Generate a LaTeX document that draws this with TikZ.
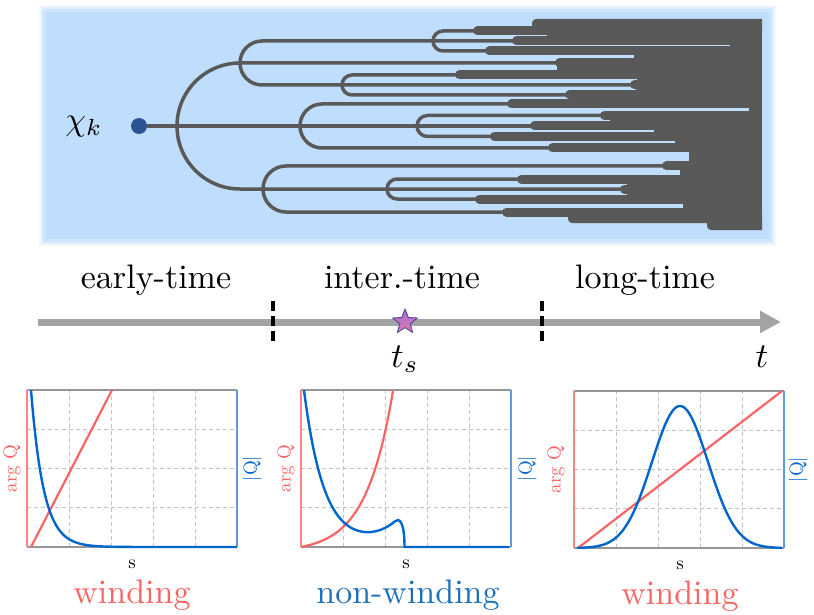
\documentclass[tikz,border=0pt]{standalone}
\usetikzlibrary{arrows.meta,shapes.geometric,positioning}

\definecolor{skyback}{RGB}{191,222,253}
\definecolor{branch}{RGB}{89,89,89}
\definecolor{rootdot}{RGB}{44,82,148}
\definecolor{argred}{RGB}{250,100,100}
\definecolor{absblue}{RGB}{0,102,204}
\definecolor{nwblue}{RGB}{28,112,184}
\definecolor{axisblue}{RGB}{90,155,220}
\definecolor{framegray}{RGB}{150,150,150}
\definecolor{gridgray}{RGB}{195,195,195}
\definecolor{timegray}{RGB}{163,163,163}

\tikzset{
  branchline/.style={draw=branch,line width=3.5pt},
  bar/.style={draw=branch,line width=9pt,line cap=round},
  bigtxt/.style={font=\fontsize{10}{12}\selectfont,scale=3.4,transform shape,inner sep=0pt},
  mathtxt/.style={font=\fontsize{10}{12}\selectfont,scale=3.5,transform shape,inner sep=0pt},
  smalltxt/.style={font=\fontsize{10}{12}\selectfont,scale=1.9,transform shape,inner sep=0pt},
  gridline/.style={draw=gridgray,line width=0.8pt,dash pattern=on 4pt off 3pt},
  cutmark/.style={draw=black,line width=4pt,dash pattern=on 10pt off 5pt},
  argline/.style={draw=argred,line width=2.2pt},
  qline/.style={draw=absblue,line width=2.4pt}
}

\begin{document}
\begin{tikzpicture}[x=1pt,y=-1pt]
  \useasboundingbox (0,0) rectangle (814,615);

  % soft blue panel
  \fill[skyback,opacity=0.2] (39,5) rectangle (776,246);
  \fill[skyback,opacity=0.35] (41,7) rectangle (774,244);
  \fill[skyback,opacity=0.6] (43,9) rectangle (772,242);
  \fill[skyback] (46,12) rectangle (769,239);

  % branching tree
  \node (root) [circle,fill=rootdot,minimum size=16pt,inner sep=0pt] at (139,126) {};
  \coordinate (root end) at (760,126);
  \draw[branchline] (root) -- (root end);
  \foreach \lx/\cy/\r in {177/126/63, 240/63/22, 433/41/10, 342/85/10,
                          300/126/22, 417/126/10.5, 263/189/23, 387/189/10} {
    \draw[branchline] (760,\cy-\r) -- (\lx+\r,\cy-\r)
      arc[start angle=270,end angle=90,radius=\r] -- (760,\cy+\r);
  }
  \foreach \by/\bx in {31/473, 41/512, 51/485, 63/555, 75/455, 85/630, 95/565,
                       104/507, 115.5/600, 126/530, 136.5/490, 148/548, 166/662,
                       179/517, 189/620, 199/475, 212/502} {
    \draw[bar] (\bx+4.5,\by) -- (757.5,\by);
  }
  \foreach \ya/\yb/\gx in {31/41/547, 41/51/730, 51/63/634, 63/75/557, 75/85/637,
                           85/95/636, 95/104/647, 104/115.5/749, 115.5/126/610,
                           126/136.5/654, 136.5/148/675, 148/166/689, 166/179/680,
                           179/189/627, 189/199/627, 199/212/683} {
    \fill[branch] (\gx,\ya) rectangle (762,\yb);
  }
  \fill[branch] (532,32) [rounded corners=4pt] -- (532,19) [sharp corners] -- (762,19) -- (762,32) -- cycle;
  \fill[branch] (568,211) [rounded corners=4pt] -- (568,223) [sharp corners] -- (762,223) -- (762,211) -- cycle;
  \fill[branch] (707,222) [rounded corners=4pt] -- (707,230) [sharp corners] -- (762,230) -- (762,222) -- cycle;

  \node (chi) [mathtxt,scale=0.95] at (84,127) {$\chi_k$};

  % time axis
  \node (early) [bigtxt,anchor=base] at (156,288) {early-time};
  \node (inter) [bigtxt,anchor=base] at (402,288) {inter.-time};
  \node (long)  [bigtxt,anchor=base] at (645,288) {long-time};

  \coordinate (tl start) at (38,322);
  \coordinate (tl end) at (781,322);
  \draw[timegray,line width=7pt,-{Triangle[length=21pt,width=21pt]}] (tl start) -- (tl end);
  \foreach \cx in {273,542}
    \draw[cutmark] (\cx,301) -- (\cx,344);

  \node (star) [star,star points=5,star point ratio=2.3,minimum size=26pt,inner sep=0pt,
                draw={rgb,255:red,70;green,70;blue,150},line width=0.8pt,
                top color={rgb,255:red,160;green,110;blue,205},
                bottom color={rgb,255:red,225;green,120;blue,180}] at (405,322) {};
  \node (ts) [mathtxt,anchor=base] at (405,367) {$t_s$};
  \node (tt) [mathtxt,anchor=base] at (762,367) {$t$};

  % panel 1: winding
  \begin{scope}[shift={(27,547)},y=1pt]
    \draw[gridline] (0,0) grid[xstep=42,ystep=39.25] (210,157);
    \draw[framegray,line width=1.5pt] (0,0) -- (210,0) (0,157) -- (210,157);
    \draw[argred!80,line width=1.2pt] (0,0) -- (0,157);
    \draw[axisblue,line width=1.2pt] (210,0) -- (210,157);
    \draw[argline] (4,0) -- (85,157);
    \draw[qline] plot[domain=4:210,samples=150,smooth] (\x,{157*exp(-(\x-4)/12.7)});
    \node (arg1) [smalltxt,rotate=90,text=argred] at (-15,78.5) {arg Q};
    \node (abs1) [smalltxt,rotate=90,text=absblue] at (225,78.5) {|Q|};
    \node (s1) [smalltxt] at (105,-17) {s};
    \node (lab1) [bigtxt,anchor=base,text=argred] at (105,-56) {winding};
  \end{scope}

  % panel 2: non-winding
  \begin{scope}[shift={(301,547)},y=1pt]
    \draw[gridline] (0,0) grid[xstep=42,ystep=39.25] (210,157);
    \draw[framegray,line width=1.5pt] (0,0) -- (210,0) (0,157) -- (210,157);
    \draw[argred!80,line width=1.2pt] (0,0) -- (0,157);
    \draw[axisblue,line width=1.2pt] (210,0) -- (210,157);
    \draw[argline] plot[domain=0:92,samples=100,smooth] (\x,{5.29*(exp(\x/26.9)-1)});
    \draw[qline] plot[domain=3:94,samples=100,smooth]
      (\x,{156*exp(-(\x-3)/20)+26*exp((\x-96)/26)})
      .. controls (98,29.5) and (103.5,26) .. (103.5,0) -- (208,0);
    \node (arg2) [smalltxt,rotate=90,text=argred] at (-15,78.5) {arg Q};
    \node (abs2) [smalltxt,rotate=90,text=absblue] at (226,78.5) {|Q|};
    \node (s2) [smalltxt] at (105,-17) {s};
    \node (lab2) [bigtxt,anchor=base,text=nwblue] at (107,-56) {non-winding};
  \end{scope}

  % panel 3: winding
  \begin{scope}[shift={(574,548)},y=1pt]
    \draw[gridline] (0,0) grid[xstep=42,ystep=39.25] (210,157);
    \draw[framegray,line width=1.5pt] (0,0) -- (210,0) (0,157) -- (210,157);
    \draw[argred!80,line width=1.2pt] (0,0) -- (0,157);
    \draw[axisblue,line width=1.2pt] (210,0) -- (210,157);
    \draw[argline] (4,0) -- (208,157);
    \draw[qline] plot[domain=3:208,samples=150,smooth] (\x,{142*exp(-((\x-106)^2)/1568)});
    \node (arg3) [smalltxt,rotate=90,text=argred] at (-18,78.5) {arg Q};
    \node (abs3) [smalltxt,rotate=90,text=absblue] at (224,78.5) {|Q|};
    \node (s3) [smalltxt] at (106,-17) {s};
    \node (lab3) [bigtxt,anchor=base,text=argred] at (106,-56) {winding};
  \end{scope}
\end{tikzpicture}
\end{document}
